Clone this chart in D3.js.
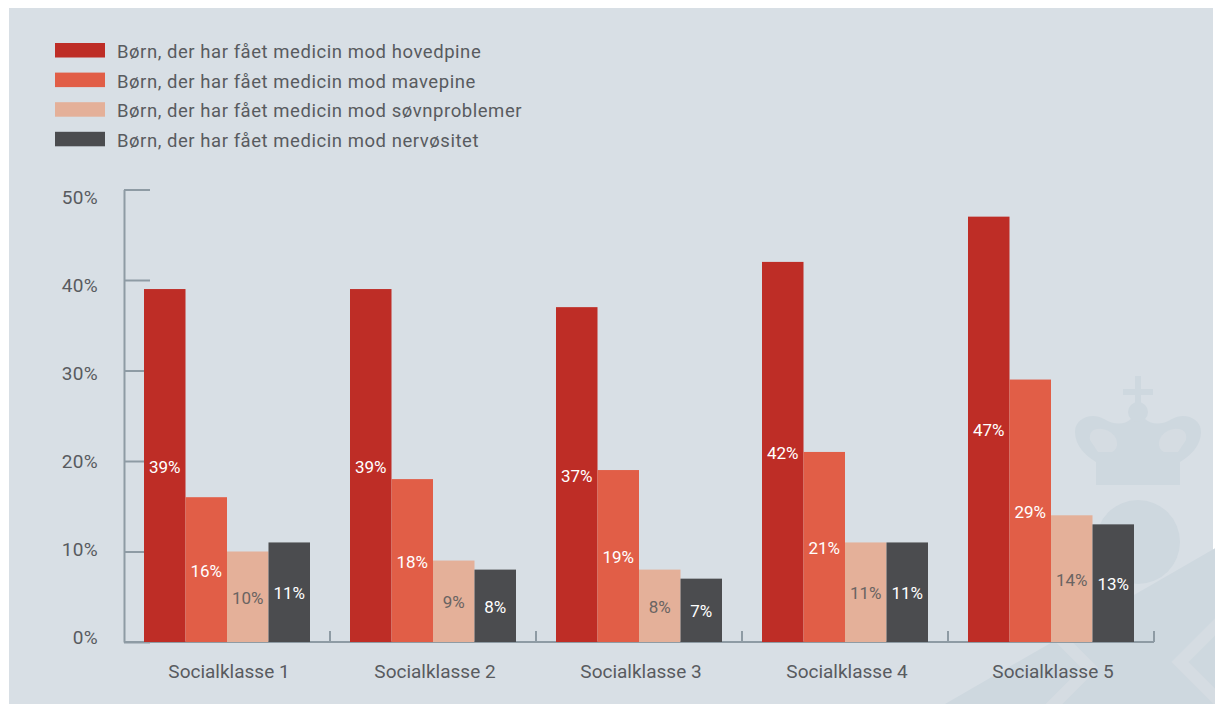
<!DOCTYPE html>
<html lang="da">
<head>
<meta charset="utf-8">
<title>Medicin til børn fordelt på socialklasse</title>
<script src="https://cdn.jsdelivr.net/npm/d3@7"></script>
<style>
  html, body { margin: 0; padding: 0; background: #ffffff; }
  svg { display: block; }
  text { font-family: Roboto, "Open Sans", sans-serif; }
</style>
</head>
<body>
<svg id="chart" width="1215" height="704"></svg>
<script>
// ---- data ----
const categories = ["Socialklasse 1", "Socialklasse 2", "Socialklasse 3", "Socialklasse 4", "Socialklasse 5"];
const seriesNames = [
  "Børn, der har fået medicin mod hovedpine",
  "Børn, der har fået medicin mod mavepine",
  "Børn, der har fået medicin mod søvnproblemer",
  "Børn, der har fået medicin mod nervøsitet"
];
const hovedpine   = [39, 39, 37, 42, 47];
const mavepine    = [16, 18, 19, 21, 29];
const soevn       = [10, 9, 8, 11, 14];
const nervoesitet = [11, 8, 7, 11, 13];
const yTicks = [0, 10, 20, 30, 40, 50];
const yTickLabels = ["0%", "10%", "20%", "30%", "40%", "50%"];

const seriesValues = [hovedpine, mavepine, soevn, nervoesitet];
const colors = ["#be2d26", "#e15e47", "#e4b099", "#4b4c4f"];
const labelColors = ["#ffffff", "#ffffff", "#6a6462", "#ffffff"];

const svg = d3.select("#chart");

// background panel
svg.append("rect")
  .attr("x", 9).attr("y", 8).attr("width", 1204).attr("height", 696)
  .attr("fill", "#d8dfe5");

// faint crown emblem in the lower right corner
const wm = svg.append("g").attr("fill", "#ced8df");
wm.append("rect")
  .attr("x", -430).attr("y", -120).attr("width", 860).attr("height", 240).attr("rx", 120)
  .attr("transform", "translate(1140,730) rotate(-30)");
wm.append("circle").attr("cx", 1138).attr("cy", 542).attr("r", 42);
wm.append("path").attr("d",
  "M1096,485 L1096,462 C1086,456 1075,446 1075,432 C1075,418 1092,412 1104,419 " +
  "C1114,425 1124,425 1131,419 L1138,414 L1145,419 C1152,425 1162,425 1172,419 " +
  "C1184,412 1201,418 1201,432 C1201,446 1190,456 1180,462 L1180,485 Z");
wm.append("circle").attr("cx", 1138).attr("cy", 412).attr("r", 10);
wm.append("rect").attr("x", 1135).attr("y", 376).attr("width", 6).attr("height", 30);
wm.append("rect").attr("x", 1123).attr("y", 389).attr("width", 30).attr("height", 6);

const wmLight = svg.append("g").attr("fill", "none").attr("stroke", "#d5dce2")
  .attr("stroke-width", 12).attr("stroke-linejoin", "miter");
wmLight.append("polyline").attr("points", "1038,616 1090,668 1048,710");
wmLight.append("polyline").attr("points", "1222,620 1180,662 1222,704");

// hollow of the crown arches
const wmHole = svg.append("g").attr("fill", "#d5dce2");
wmHole.append("path").attr("d", "M1090,440 C1088,428 1100,426 1110,432 C1118,437 1120,448 1112,452 L1098,452 Z");
wmHole.append("path").attr("d", "M1186,440 C1188,428 1176,426 1166,432 C1158,437 1156,448 1164,452 L1178,452 Z");

// ---- scales ----
const x = d3.scaleBand().domain(categories).range([124, 1154]).paddingInner(0).paddingOuter(0);
const xSub = d3.scaleBand().domain(d3.range(seriesNames.length)).range([20, x.bandwidth() - 20]);
const y = d3.scaleLinear().domain([0, 50]).range([642, 189.5]);
const yLabel = d3.scaleLinear().domain([0, 50]).range([644, 204]);

const axisColor = "#8e9ba4";
const textColor = "#585b5f";

// ---- y axis ----
const yAxis = svg.append("g")
  .attr("transform", "translate(124,0)")
  .call(d3.axisRight(y).tickValues(yTicks).tickSize(26).tickSizeOuter(0).tickFormat(""));
yAxis.select(".domain").attr("stroke", axisColor).attr("stroke-width", 2);
yAxis.selectAll(".tick line").attr("stroke", axisColor).attr("stroke-width", 2);

svg.append("g").selectAll("text")
  .data(yTicks)
  .join("text")
  .attr("x", 98)
  .attr("y", d => yLabel(d))
  .attr("text-anchor", "end")
  .attr("font-size", 19)
  .attr("letter-spacing", 0.3)
  .attr("fill", textColor)
  .text((d, i) => yTickLabels[i]);

// ---- x axis ----
const xAxis = svg.append("g").attr("stroke", axisColor).attr("stroke-width", 2);
xAxis.append("line")
  .attr("x1", x.range()[0]).attr("x2", x.range()[1])
  .attr("y1", y(0)).attr("y2", y(0));
xAxis.selectAll("line.sep")
  .data(categories)
  .join("line")
  .attr("class", "sep")
  .attr("x1", d => x(d) + x.bandwidth()).attr("x2", d => x(d) + x.bandwidth())
  .attr("y1", y(0)).attr("y2", y(0) - 11);

svg.append("g").selectAll("text")
  .data(categories)
  .join("text")
  .attr("x", d => x(d) + x.bandwidth() / 2 + 2)
  .attr("y", 678)
  .attr("text-anchor", "middle")
  .attr("font-size", 19)
  .attr("fill", textColor)
  .text(d => d);

// ---- bars ----
const groups = svg.append("g").selectAll("g")
  .data(categories)
  .join("g")
  .attr("transform", d => `translate(${x(d)},0)`);

groups.each(function (cat, ci) {
  const g = d3.select(this);
  const rows = seriesValues.map((vals, si) => ({ si, v: vals[ci] }));
  g.selectAll("rect")
    .data(rows)
    .join("rect")
    .attr("x", d => xSub(d.si))
    .attr("width", xSub.bandwidth())
    .attr("y", d => y(d.v))
    .attr("height", d => y(0) - y(d.v))
    .attr("fill", d => colors[d.si]);
  g.selectAll("text")
    .data(rows)
    .join("text")
    .attr("x", d => xSub(d.si) + xSub.bandwidth() / 2)
    .attr("y", d => (y(d.v) + y(0)) / 2 + 7)
    .attr("text-anchor", "middle")
    .attr("font-size", 17)
    .attr("fill", d => labelColors[d.si])
    .text(d => d.v + "%");
});

// ---- legend ----
const legend = svg.append("g").selectAll("g")
  .data(seriesNames)
  .join("g")
  .attr("transform", (d, i) => `translate(55,${43 + i * 29.6})`);
legend.append("rect")
  .attr("width", 50).attr("height", 14.5)
  .attr("fill", (d, i) => colors[i]);
legend.append("text")
  .attr("x", 62).attr("y", 15)
  .attr("font-size", 18.5)
  .attr("letter-spacing", 0.55)
  .attr("fill", textColor)
  .text(d => d);
</script>
</body>
</html>
